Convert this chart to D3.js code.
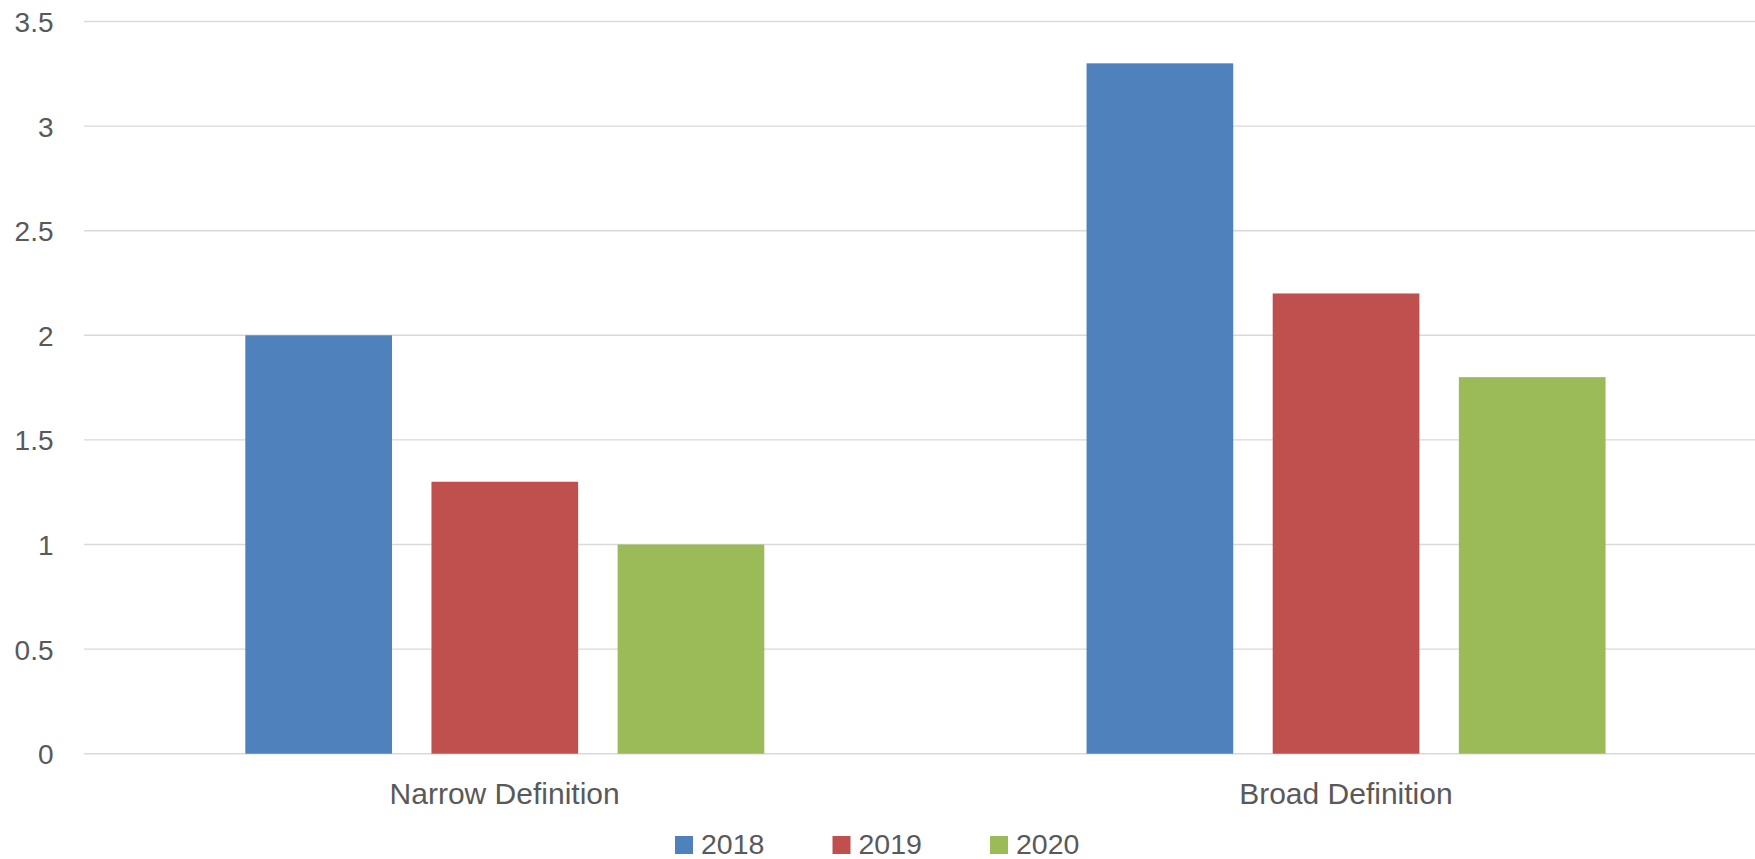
<!DOCTYPE html>
<html>
<head>
<meta charset="utf-8">
<script src="https://cdn.jsdelivr.net/npm/d3@7"></script>
<style>
  html, body { margin: 0; padding: 0; background: #fff; overflow: hidden; }
  text { font-family: "Liberation Sans", Arial, sans-serif; fill: #595959; }
</style>
</head>
<body>
<div id="chart"></div>
<script>
// data
var categories = ["Narrow Definition", "Broad Definition"];
var years = ["2018", "2019", "2020"];
var values2018 = [2, 3.3];
var values2019 = [1.3, 2.2];
var values2020 = [1, 1.8];
var yTicks = [0, 0.5, 1, 1.5, 2, 2.5, 3, 3.5];
var colors = ["#4F81BD", "#C0504D", "#9BBB59"];

var W = 1755, H = 859;
var margin = {top: 21.5, left: 84, bottom: 105.3};
var plotRight = 1766.5;
var height = H - margin.top - margin.bottom;

var series = [values2018, values2019, values2020];
var data = categories.map(function(c, i) {
  return {cat: c, vals: years.map(function(y, j) { return {year: y, v: series[j][i], k: j}; })};
});

var svg = d3.select("#chart")
  .append("svg")
    .attr("width", W)
    .attr("height", H);

var x0 = d3.scaleBand()
  .domain(categories)
  .range([margin.left, plotRight])
  .padding(0);

var x1 = d3.scaleBand()
  .domain(years)
  .range([161.3, 680.3])
  .paddingInner(0.212)
  .paddingOuter(0);

var y = d3.scaleLinear()
  .domain([0, 3.5])
  .range([margin.top + height, margin.top]);

// gridlines
svg.append("g")
  .selectAll("line")
  .data(yTicks)
  .enter().append("line")
    .attr("x1", margin.left)
    .attr("x2", plotRight)
    .attr("y1", function(d) { return y(d); })
    .attr("y2", function(d) { return y(d); })
    .attr("stroke", "#d9d9d9")
    .attr("stroke-width", 1.4);

// y axis labels
var yAxis = svg.append("g")
  .attr("transform", "translate(" + (margin.left - 30.5) + ",0)")
  .call(d3.axisLeft(y).tickValues(yTicks).tickSize(0).tickPadding(0).tickFormat(d3.format("")));
yAxis.select(".domain").remove();
yAxis.selectAll("text")
  .style("font-size", "28px")
  .style("font-family", "'Liberation Sans', Arial, sans-serif")
  .attr("fill", "#595959")
  .attr("dy", "0.36em");

// bars
svg.append("g")
  .selectAll("g")
  .data(data)
  .enter().append("g")
    .attr("transform", function(d) { return "translate(" + x0(d.cat) + ",0)"; })
  .selectAll("rect")
  .data(function(d) { return d.vals; })
  .enter().append("rect")
    .attr("x", function(d) { return x1(d.year); })
    .attr("y", function(d) { return y(d.v); })
    .attr("width", x1.bandwidth())
    .attr("height", function(d) { return y(0) - y(d.v); })
    .attr("fill", function(d) { return colors[d.k]; });

// category labels
var xAxis = svg.append("g")
  .attr("transform", "translate(0," + y(0) + ")")
  .call(d3.axisBottom(x0).tickSize(0).tickPadding(0));
xAxis.select(".domain").remove();
xAxis.selectAll("text")
  .style("font-size", "30px")
  .style("font-family", "'Liberation Sans', Arial, sans-serif")
  .attr("fill", "#595959")
  .attr("dy", null)
  .attr("y", 50.5);

// legend
var legend = svg.append("g")
  .attr("transform", "translate(675,836)");
var item = legend.selectAll("g")
  .data(years)
  .enter().append("g")
    .attr("transform", function(d, i) { return "translate(" + (i * 157.5) + ",0)"; });
item.append("rect")
  .attr("width", 18)
  .attr("height", 18)
  .attr("fill", function(d, i) { return colors[i]; });
item.append("text")
  .attr("x", 26)
  .attr("y", 18)
  .style("font-size", "28.5px")
  .text(function(d) { return d; });
</script>
</body>
</html>
